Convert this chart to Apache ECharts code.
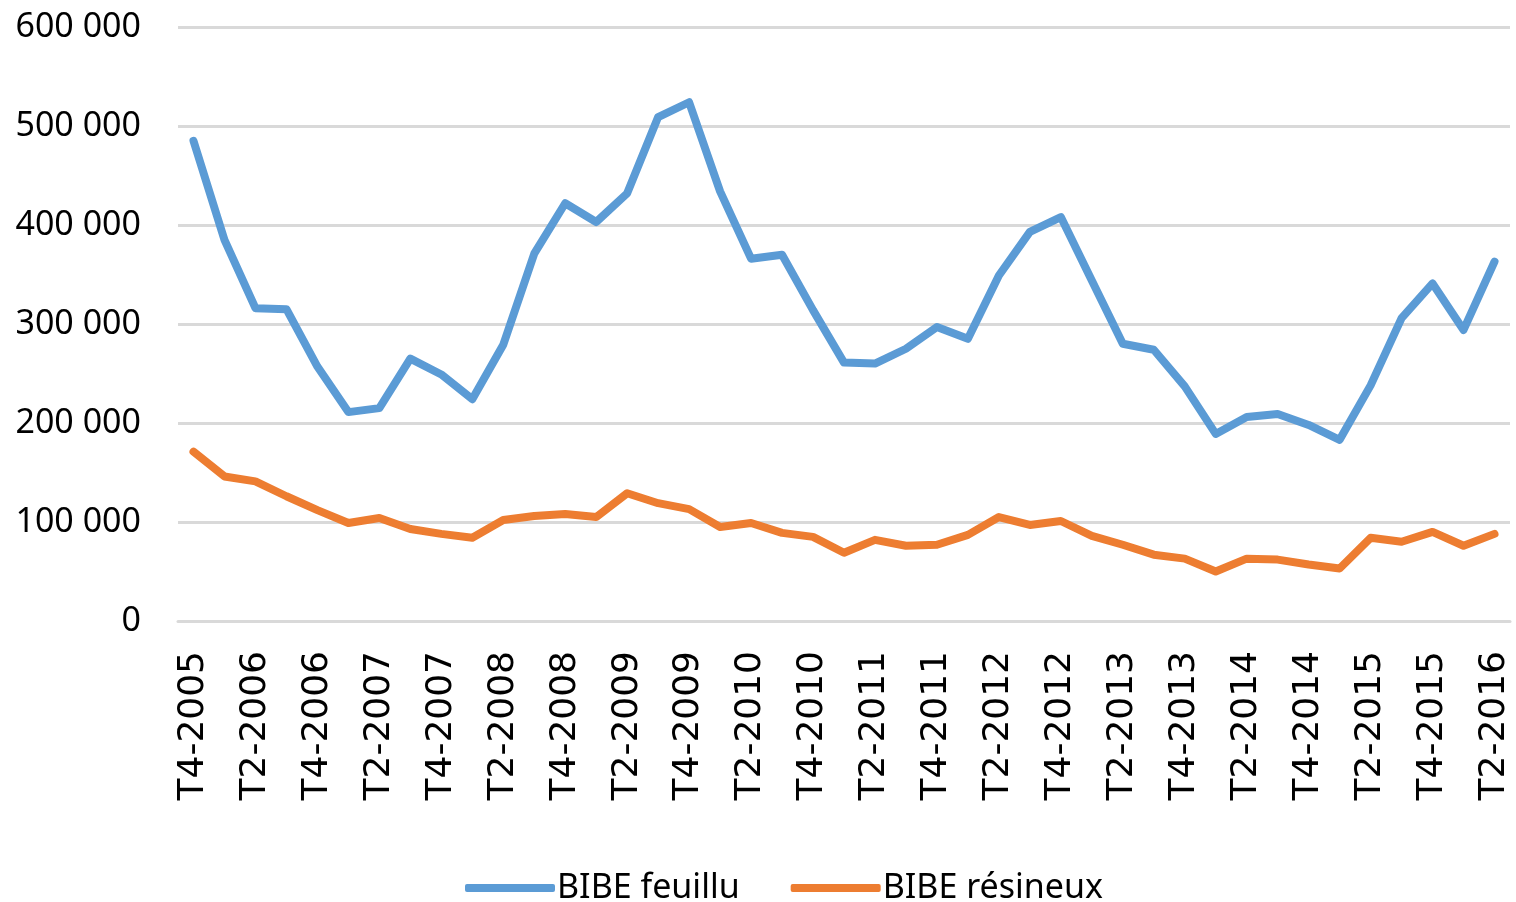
<!DOCTYPE html>
<html>
<head>
<meta charset="utf-8">
<script src="https://cdn.jsdelivr.net/npm/echarts@6/dist/echarts.min.js"></script>
<style>
  html, body { margin: 0; padding: 0; background: #fff; }
  #chart { width: 1516px; height: 902px; }
</style>
</head>
<body>
<div id="chart"></div>
<script>
const quarters = [
  'T4-2005',
  'T1-2006', 'T2-2006', 'T3-2006', 'T4-2006',
  'T1-2007', 'T2-2007', 'T3-2007', 'T4-2007',
  'T1-2008', 'T2-2008', 'T3-2008', 'T4-2008',
  'T1-2009', 'T2-2009', 'T3-2009', 'T4-2009',
  'T1-2010', 'T2-2010', 'T3-2010', 'T4-2010',
  'T1-2011', 'T2-2011', 'T3-2011', 'T4-2011',
  'T1-2012', 'T2-2012', 'T3-2012', 'T4-2012',
  'T1-2013', 'T2-2013', 'T3-2013', 'T4-2013',
  'T1-2014', 'T2-2014', 'T3-2014', 'T4-2014',
  'T1-2015', 'T2-2015', 'T3-2015', 'T4-2015',
  'T1-2016', 'T2-2016'
];

const feuillu = [
  485000, 385000, 316000, 315000, 257000, 211000, 215000, 265000, 249000, 224000,
  279000, 371000, 422000, 403000, 432000, 509000, 524000, 434000, 366000, 370000,
  314000, 261000, 260000, 275000, 297000, 285000, 349000, 393000, 408000, 344000,
  280000, 274000, 237000, 189000, 206000, 209000, 198000, 183000, 238000, 306000,
  341000, 294000, 363000
];

const resineux = [
  171000, 146000, 141000, 126000, 112000, 99000, 104000, 93000, 88000, 84000,
  102000, 106000, 108000, 105000, 129000, 119000, 113000, 95000, 99000, 89000,
  85000, 69000, 82000, 76000, 77000, 87000, 105000, 97000, 101000, 86000,
  77000, 67000, 63000, 50000, 63000, 62000, 57000, 53000, 84000, 80000,
  90000, 76000, 88000
];

const yTicks = { min: 0, max: 600000, step: 100000 };

const myChart = echarts.init(document.getElementById('chart'));

// séparateur de milliers : espace
const fmt = v => String(v).replace(/\B(?=(\d{3})+(?!\d))/g, ' ');

myChart.setOption({
  animation: false,
  color: ['#5B9BD5', '#ED7D31'],
  grid: {
    left: 178,
    right: 6,
    top: 27,
    bottom: 281
  },
  legend: {
    left: 460,
    top: 866,
    icon: 'roundRect',
    itemWidth: 90,
    itemHeight: 8,
    itemGap: 51,
    textStyle: {
      fontFamily: 'Noto Sans',
      fontSize: 34,
      color: '#000',
      padding: [0, 0, 0, -3]
    },
    data: ['BIBE feuillu', 'BIBE résineux']
  },
  xAxis: {
    type: 'category',
    boundaryGap: true,
    data: quarters,
    axisTick: { show: false },
    axisLine: {
      show: true,
      lineStyle: { color: '#D9D9D9', width: 3 }
    },
    axisLabel: {
      interval: 1,
      rotate: 90,
      margin: 30,
      fontFamily: 'DejaVu Sans',
      fontSize: 36,
      color: '#000'
    }
  },
  yAxis: {
    type: 'value',
    min: yTicks.min,
    max: yTicks.max,
    interval: yTicks.step,
    axisLine: { show: false },
    axisTick: { show: false },
    splitLine: {
      lineStyle: { color: '#D9D9D9', width: 3 }
    },
    axisLabel: {
      margin: 37,
      formatter: fmt,
      fontFamily: 'Noto Sans',
      fontSize: 34,
      color: '#000'
    }
  },
  series: [
    {
      name: 'BIBE feuillu',
      type: 'line',
      data: feuillu,
      symbol: 'none',
      lineStyle: { width: 8, color: '#5B9BD5', cap: 'round', join: 'round' }
    },
    {
      name: 'BIBE résineux',
      type: 'line',
      data: resineux,
      symbol: 'none',
      lineStyle: { width: 8, color: '#ED7D31', cap: 'round', join: 'round' }
    }
  ]
});
</script>
</body>
</html>
